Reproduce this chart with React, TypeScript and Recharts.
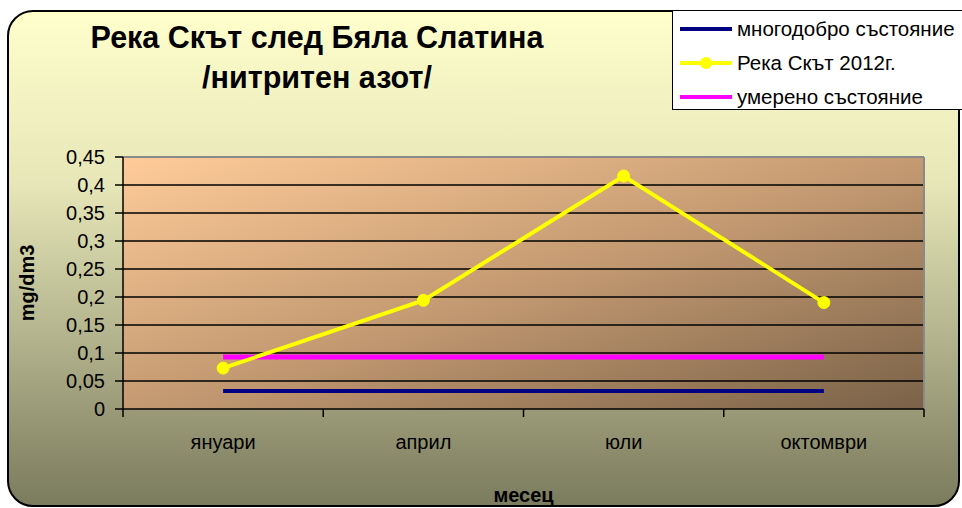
import React from 'react';
import { LineChart, Line, XAxis, YAxis, CartesianGrid, Legend } from 'recharts';

const months = ['януари', 'април', 'юли', 'октомври'];
const riverValues = [0.073, 0.194, 0.416, 0.19];
const goodStatus = [0.032, 0.032, 0.032, 0.032];
const moderateStatus = [0.093, 0.093, 0.093, 0.093];
const yTicks = [0, 0.05, 0.1, 0.15, 0.2, 0.25, 0.3, 0.35, 0.4, 0.45];

const seriesInfo = [
  { key: 'good', name: 'многодобро състояние', color: '#000080', dot: false },
  { key: 'river', name: 'Река Скът 2012г.', color: '#FFFF00', dot: true },
  { key: 'moderate', name: 'умерено състояние', color: '#FF00FF', dot: false },
];

const data = months.map((month, i) => ({
  month,
  river: riverValues[i],
  good: goodStatus[i],
  moderate: moderateStatus[i],
}));

const FONT = '"Liberation Sans", Arial, sans-serif';

interface TickProps {
  x: number;
  y: number;
  index: number;
  visibleTicksCount: number;
  payload: { value: string; offset?: number };
}

const MonthTick = (props: TickProps) => {
  const { x, y, payload, index, visibleTicksCount } = props;
  const half = payload.offset ?? 0;
  return (
    <g>
      <line x1={x - half} y1={y} x2={x - half} y2={y + 8} stroke="#000" strokeWidth={1.5} />
      {index === visibleTicksCount - 1 && (
        <line x1={x + half} y1={y} x2={x + half} y2={y + 8} stroke="#000" strokeWidth={1.5} />
      )}
      <text x={x} y={y + 40} textAnchor="middle" fontSize={20} fontFamily={FONT} fill="#000">
        {payload.value}
      </text>
    </g>
  );
};

const LegendBox = () => (
  <div
    style={{
      width: 300,
      height: 100,
      boxSizing: 'border-box',
      background: '#fff',
      border: '1px solid #000',
      fontFamily: FONT,
      fontSize: 20.5,
      paddingTop: 1,
    }}
  >
    {seriesInfo.map((s) => (
      <div key={s.key} style={{ display: 'flex', alignItems: 'center', height: 34 }}>
        <svg width={60} height={14} style={{ marginLeft: 7 }}>
          <line x1={0} y1={7} x2={52} y2={7} stroke={s.color} strokeWidth={4} />
          {s.dot && <circle cx={26} cy={7} r={6} fill={s.color} />}
        </svg>
        <span style={{ marginLeft: -3 }}>{s.name}</span>
      </div>
    ))}
  </div>
);

export default function App() {
  return (
    <div style={{ position: 'absolute', left: 0, top: 0, width: 962, height: 508, overflow: 'hidden', background: '#fff' }}>
      <div
        style={{
          position: 'absolute',
          left: 7,
          top: 10,
          width: 953,
          height: 497,
          boxSizing: 'border-box',
          border: '2px solid #000',
          borderRadius: 26,
          background: 'linear-gradient(to bottom, #FFFFCC 0%, #E6E6B8 35%, #7B7B5E 100%)',
        }}
      />
      <div
        style={{
          position: 'absolute',
          left: 67,
          top: 17,
          width: 500,
          textAlign: 'center',
          fontFamily: FONT,
          fontWeight: 'bold',
          fontSize: 30.5,
          lineHeight: '40px',
        }}
      >
        Река Скът след Бяла Слатина
        <br />
        /нитритен азот/
      </div>
      <div style={{ position: 'absolute', left: 0, top: 0 }}>
        <LineChart
          width={962}
          height={508}
          data={data}
          margin={{ top: 157, right: 38, bottom: 0, left: 0 }}
          style={{ fontFamily: FONT }}
        >
          <defs>
            <linearGradient id="plotGrad" x1="0" y1="0" x2="1" y2="1">
              <stop offset="0%" stopColor="#FFCC99" />
              <stop offset="50%" stopColor="#C49A72" />
              <stop offset="100%" stopColor="#7A6248" />
            </linearGradient>
          </defs>
          <CartesianGrid
            fill="url(#plotGrad)"
            fillOpacity={1}
            stroke="#000"
            strokeWidth={1.5}
            vertical={false}
            horizontalValues={yTicks.slice(1, -1)}
          />
          <CartesianGrid
            stroke="#8a8a8a"
            strokeWidth={2}
            horizontalCoordinatesGenerator={({ offset }: any) => [offset.top]}
            verticalCoordinatesGenerator={({ offset }: any) => [offset.left + offset.width]}
          />
          <XAxis
            dataKey="month"
            scale="band"
            height={99}
            axisLine={{ stroke: '#000', strokeWidth: 1.5 }}
            tickLine={false}
            tickSize={0}
            tickMargin={0}
            interval={0}
            tick={(p: any) => <MonthTick {...p} />}
            label={{ value: 'месец', position: 'insideBottom', offset: 6, fontWeight: 'bold', fontSize: 20, fill: '#000' }}
          />
          <YAxis
            width={123}
            domain={[0, 0.45]}
            ticks={yTicks}
            interval={0}
            axisLine={{ stroke: '#000', strokeWidth: 1.5 }}
            tickLine={{ stroke: '#000', strokeWidth: 1.5 }}
            tickSize={8}
            tickMargin={10}
            tick={{ fontSize: 20, fill: '#000' }}
            tickFormatter={(v: number) => String(v).replace('.', ',')}
            label={{ value: 'mg/dm3', angle: -90, position: 'center', dx: -35, fontWeight: 'bold', fontSize: 20, fill: '#000' }}
          />
          <Legend
            layout="vertical"
            align="center"
            verticalAlign="middle"
            wrapperStyle={{ left: 672, top: 10, width: 300, height: 100 }}
            content={() => <LegendBox />}
          />
          <Line dataKey="good" name={seriesInfo[0].name} stroke="#000080" strokeWidth={4} dot={false} isAnimationActive={false} />
          <Line dataKey="moderate" name={seriesInfo[2].name} stroke="#FF00FF" strokeWidth={5} dot={false} isAnimationActive={false} />
          <Line
            dataKey="river"
            name={seriesInfo[1].name}
            stroke="#FFFF00"
            strokeWidth={4}
            dot={{ r: 6, fill: '#FFFF00', stroke: '#FFFF00', strokeWidth: 1 }}
            isAnimationActive={false}
          />
        </LineChart>
      </div>
    </div>
  );
}
